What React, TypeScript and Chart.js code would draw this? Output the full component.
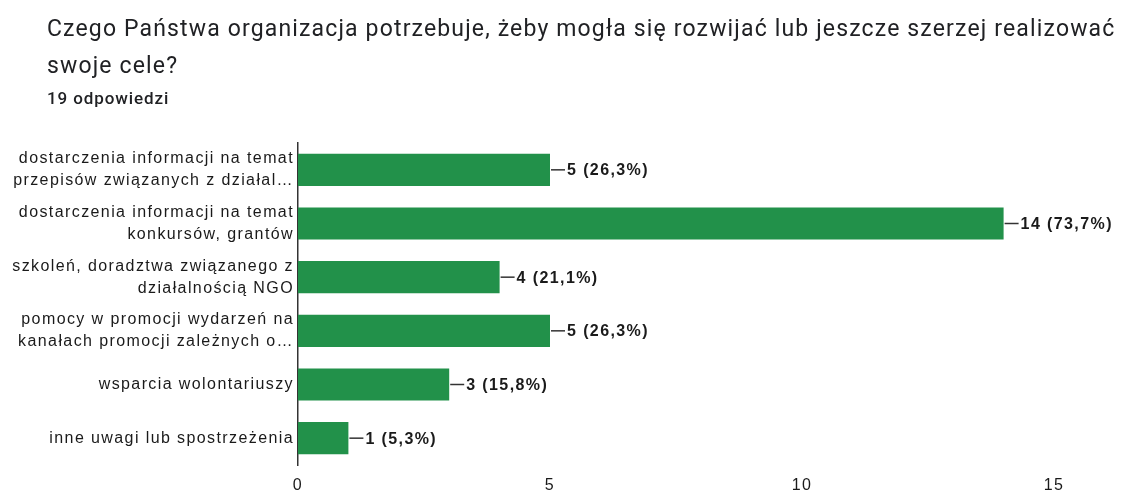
import React, { useEffect, useRef } from "react";
import { Chart, registerables } from "chart.js";

Chart.register(...registerables);

const TITLE_LINE_1 = "Czego Państwa organizacja potrzebuje, żeby mogła się rozwijać lub jeszcze szerzej realizować";
const TITLE_LINE_2 = "swoje cele?";
const SUBTITLE = "19 odpowiedzi";

const categories: string[][] = [
  ["dostarczenia informacji na temat", "przepisów związanych z działal…"],
  ["dostarczenia informacji na temat", "konkursów, grantów"],
  ["szkoleń, doradztwa związanego z", "działalnością NGO"],
  ["pomocy w promocji wydarzeń na", "kanałach promocji zależnych o…"],
  ["wsparcia wolontariuszy"],
  ["inne uwagi lub spostrzeżenia"],
];
const counts: number[] = [5, 14, 4, 5, 3, 1];
const percents: string[] = ["26,3%", "73,7%", "21,1%", "26,3%", "15,8%", "5,3%"];
const xTicks: number[] = [0, 5, 10, 15];

const BAR_COLOR = "#22914a";
const TEXT_COLOR = "#1a1a1a";
const FONT = "'Liberation Sans', Arial, sans-serif";

export default function App() {
  const canvasRef = useRef<HTMLCanvasElement | null>(null);

  useEffect(() => {
    const canvas = canvasRef.current;
    if (!canvas) return;

    const spacingPlugin = {
      id: "spacing",
      beforeDraw(chart: any) {
        (chart.ctx as any).letterSpacing = "1.4px";
      },
      afterDraw(chart: any) {
        (chart.ctx as any).letterSpacing = "0px";
      },
    };

    const valueLabels = {
      id: "valueLabels",
      afterDatasetsDraw(chart: any) {
        const ctx = chart.ctx;
        const meta = chart.getDatasetMeta(0);
        ctx.save();
        (ctx as any).letterSpacing = "1.4px";
        meta.data.forEach((bar: any, i: number) => {
          const x = bar.x;
          const y = bar.y;
          ctx.strokeStyle = "#333333";
          ctx.lineWidth = 1.5;
          ctx.beginPath();
          ctx.moveTo(x + 1, y);
          ctx.lineTo(x + 15, y);
          ctx.stroke();
          ctx.fillStyle = TEXT_COLOR;
          ctx.font = `bold 16px ${FONT}`;
          ctx.textAlign = "left";
          ctx.textBaseline = "middle";
          ctx.fillText(`${counts[i]} (${percents[i]})`, x + 17, y + 1);
        });
        ctx.restore();
      },
    };

    const chart = new Chart(canvas, {
      type: "bar",
      data: {
        labels: categories,
        datasets: [
          {
            data: counts,
            backgroundColor: BAR_COLOR,
            borderWidth: 0,
            categoryPercentage: 1,
            barPercentage: 0.6,
          },
        ],
      },
      options: {
        indexAxis: "y",
        animation: false,
        responsive: false,
        devicePixelRatio: 1,
        layout: { padding: { top: 143, right: 71, bottom: 0, left: 0 } },
        plugins: {
          legend: { display: false },
          tooltip: { enabled: false },
          title: { display: false },
        },
        scales: {
          x: {
            min: 0,
            max: 15,
            afterBuildTicks(scale: any) {
              scale.ticks = xTicks.map((v) => ({ value: v }));
            },
            afterFit(scale: any) {
              scale.height = 30;
            },
            grid: { display: false, drawTicks: false },
            border: { display: false },
            ticks: {
              padding: 11,
              color: TEXT_COLOR,
              font: { family: FONT, size: 16 },
            },
          },
          y: {
            afterFit(scale: any) {
              scale.width = 298;
            },
            grid: { display: false, drawTicks: false },
            border: { display: true, color: "#333333", width: 1.5 },
            ticks: {
              padding: 4,
              color: TEXT_COLOR,
              font: { family: FONT, size: 16, lineHeight: 1.375 },
              autoSkip: false,
            },
          },
        },
      },
      plugins: [spacingPlugin, valueLabels],
    } as any);

    return () => chart.destroy();
  }, []);

  return (
    <div style={{ position: "absolute", left: 0, top: 0, width: 1125, height: 495, background: "#ffffff", overflow: "hidden" }}>
      <canvas ref={canvasRef} width={1125} height={495} style={{ position: "absolute", left: 0, top: 0, width: 1125, height: 495 }} />
      <div
        style={{
          position: "absolute",
          left: 47,
          top: 10,
          fontFamily: "Roboto, 'Noto Sans', sans-serif",
          fontSize: 23,
          lineHeight: "37px",
          color: "#202124",
          whiteSpace: "nowrap",
          letterSpacing: "1.15px",
        }}
      >
        <div>{TITLE_LINE_1}</div>
        <div>{TITLE_LINE_2}</div>
      </div>
      <div
        style={{
          position: "absolute",
          left: 47,
          top: 88,
          fontFamily: "Roboto, 'Noto Sans', sans-serif",
          fontSize: 17,
          fontWeight: 500,
          lineHeight: "20px",
          color: "#202124",
          letterSpacing: "0.9px",
          whiteSpace: "nowrap",
        }}
      >
        {SUBTITLE}
      </div>
    </div>
  );
}
